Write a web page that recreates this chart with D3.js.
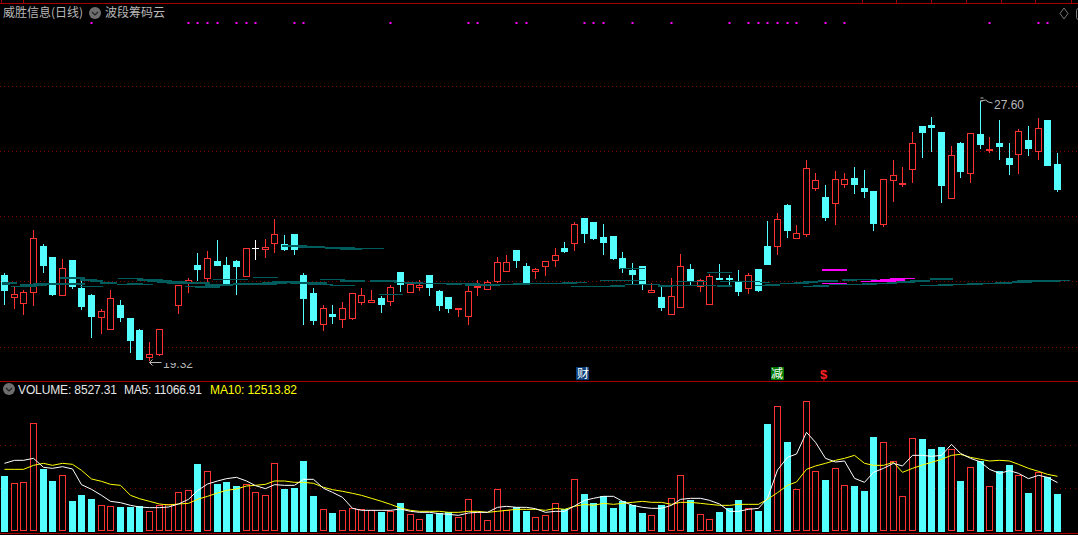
<!DOCTYPE html>
<html><head><meta charset="utf-8">
<script src="https://cdn.jsdelivr.net/npm/d3@7/dist/d3.min.js"></script>
<style>html,body{margin:0;padding:0;background:#000;overflow:hidden}svg{display:block}
text{font-family:"Liberation Sans",Arial,sans-serif;font-size:12px}
.cjk{font-family:"Noto Sans CJK SC",sans-serif}</style></head><body>
<svg id="c" width="1078" height="535"></svg>
<script>
const open=[22.03,21.34,21.15,21.47,22.95,22.60,21.40,22.51,21.62,21.39,
20.70,20.32,21.07,20.66,20.28,19.43,19.52,null,21.07,21.78,
22.35,21.93,22.48,22.35,22.48,22.00,22.88,22.86,23.06,23.02,
23.34,22.03,21.46,20.47,20.79,20.61,20.67,21.18,21.18,21.30,
21.21,22.13,21.47,21.65,22.03,21.52,21.33,20.96,20.73,21.65,
21.59,21.82,22.17,22.83,22.32,22.14,22.30,22.52,22.89,23.06,
23.85,23.72,23.24,23.27,22.57,22.19,22.32,21.50,21.33,20.80,
21.02,22.22,21.68,21.09,21.92,21.92,21.80,21.61,22.22,22.95,
22.96,24.26,23.22,23.34,24.81,24.51,24.33,24.91,25.12,24.80,
24.70,23.66,25.06,24.93,25.41,26.77,26.81,26.58,24.49,26.23,
25.27,26.52,26.01,26.23,25.75,25.89,26.33,25.96,26.96,25.56];
const high=[22.13,21.71,21.57,23.49,23.05,22.60,22.57,22.51,21.87,21.46,
20.98,21.58,21.27,20.66,20.34,19.93,20.34,null,21.71,21.97,
22.76,22.83,23.18,22.63,22.54,22.92,23.18,23.21,23.85,23.34,
23.34,22.13,21.65,21.11,21.11,21.20,21.46,21.65,21.58,21.39,
21.74,22.16,21.74,21.90,22.03,21.58,21.36,20.98,21.78,21.90,
21.90,22.63,22.70,22.83,22.44,22.28,22.48,22.92,23.11,23.75,
23.85,23.72,23.69,23.27,22.79,22.44,22.35,21.81,21.74,21.97,
22.73,22.41,21.93,22.09,22.41,22.06,22.22,22.12,22.22,23.78,
24.03,24.32,23.65,25.72,25.31,24.93,25.37,25.31,25.50,25.40,
24.70,25.12,25.72,25.50,26.61,26.77,27.09,26.61,26.17,26.30,
26.55,27.60,26.46,27.00,26.26,26.71,26.81,27.06,26.96,25.95];
const low=[21.11,20.98,20.79,21.07,22.13,21.39,21.40,21.62,20.95,20.06,
20.18,20.32,20.56,19.58,19.35,19.32,19.48,null,20.82,21.49,
21.87,21.84,22.35,21.71,21.42,22.00,22.54,22.60,22.76,22.83,
22.70,20.47,20.47,20.28,20.50,20.37,20.63,21.11,21.18,20.85,
21.07,21.52,21.47,21.55,21.39,20.92,20.85,20.72,20.47,21.39,
21.58,21.81,22.16,22.28,21.78,21.93,22.03,22.32,22.76,22.83,
23.08,23.18,22.70,22.54,22.13,21.78,21.58,21.49,20.92,20.80,
21.02,21.71,21.52,21.09,21.90,21.71,21.39,21.45,21.52,22.38,
22.70,23.24,23.22,23.27,24.73,23.78,23.65,24.83,24.64,24.51,
23.46,23.59,24.38,24.86,24.99,25.79,25.98,24.35,24.49,25.15,
24.99,26.07,25.95,25.72,25.25,25.28,25.85,25.72,25.53,24.70];
const close=[21.55,21.42,21.48,23.20,22.35,21.42,22.24,21.68,21.04,20.72,
20.87,21.29,20.69,19.96,19.35,19.50,20.30,null,21.71,21.86,
22.22,22.56,22.35,21.71,22.32,22.89,22.88,22.91,23.34,22.86,
22.86,21.30,20.60,20.97,20.72,20.97,21.45,21.39,21.22,21.11,
21.64,21.74,21.74,21.71,21.65,21.07,20.98,20.97,21.51,21.67,
21.81,22.43,22.43,22.51,21.78,22.21,22.46,22.66,22.79,23.64,
23.37,23.21,23.08,22.57,22.25,22.06,21.74,21.55,21.01,21.35,
22.31,21.84,21.86,21.99,21.90,21.90,21.52,22.02,21.55,22.38,
23.80,23.46,23.36,25.43,25.04,23.88,25.08,25.08,24.93,24.70,
23.68,25.08,25.20,24.95,26.22,26.58,26.74,24.89,25.84,25.34,
26.54,26.20,26.03,26.14,25.56,26.60,26.07,26.70,25.53,24.77];
const volume=[12586,10908,11137,24638,14188,11442,12739,6865,8238,7323,
5874,5645,5492,5492,5645,4501,5874,6102,8848,9306,
15332,13654,10755,11213,10298,10679,8848,8162,15485,9611,
9840,16019,8009,4958,4119,4729,5187,4958,4729,4348,
4501,6408,3814,2670,3890,4043,4272,3127,7247,4272,
2441,9535,4729,5416,4577,3127,3585,6331,5034,11823,
8467,6408,7933,5263,6865,5950,4119,3585,5950,7475,
12739,7094,3814,2670,4348,5263,7094,5187,4577,24486,
28529,20367,9535,29673,13654,11671,14341,10450,10298,9154,
21511,20290,15943,7933,21206,21053,18765,19223,18689,11442,
14569,16019,10222,13654,15103,12739,8696,13425,12281,8527.31];
const ma5=[15485,16171,16171,16629,14569,14341,14722,14188,10603,9535,
8162,6789,6484,5874,5492,5340,5340,5492,6179,7247,
9230,10755,11442,11976,12281,11442,10374,9688,10603,10450,
10450,11823,11823,9764,8848,7704,5187,4729,4729,4729,
4729,5034,4501,4272,4272,3967,3814,3585,4119,4272,
4272,5416,5645,5416,5416,5111,4272,4501,4501,5721,
7018,7475,7933,7933,6789,5874,5416,5187,5187,5874,
7247,7475,7475,7018,6179,4501,4501,4958,5187,7475,
13959,16858,17621,22579,20290,16629,15790,16019,12052,11137,
13425,14341,15485,14875,17316,17316,17087,17316,19833,17773,
16629,15790,14112,13196,13807,13196,11976,12739,12281,11066.91];
const ma10=[14112,14112,14112,15027,15485,15027,15485,15256,13883,11900,
11366,10679,10450,8162,7399,6789,6179,5950,6179,6331,
7247,7933,8696,9306,9611,10298,10450,10679,11442,11442,
11137,11137,10908,9993,9459,9077,8620,8162,7475,6789,
6102,5263,4729,4501,4501,4501,4272,4272,4501,4501,
4272,4501,4729,4958,4958,4958,4729,5187,4958,5645,
6102,5874,6331,6102,6331,6560,6789,6560,6560,6102,
6560,6560,6331,6102,5874,5874,6102,6102,6102,7247,
8772,10450,11213,14112,14875,15485,16171,16629,17316,15485,
15027,15027,15714,13425,14341,15103,15714,16400,17316,17544,
16858,16400,16019,16171,16019,15256,14341,13654,12968,12513.82];
const priceGrid=[28.03,25.96,23.89,21.82,19.72];
const volumeGrid=[9950,19790];
const chipFrom=[-0.28,-0.28,0.69,1.62,3.0,4.03,5.76,7.83,8.86,9.9,7.83,11.62,12.66,11.79,13.69,14.72,15.76,16.79,18.69,19.72,20.76,21.62,22.31,23.69,24.72,25.76,26.62,27.66,29.55,31.45,32.65,33.69,34.72,
28.69,30.41,31.62,33.17,34.72,36.82,
36.82,37.79,38.72,40.27,41.47,43.37,45.72,47.16,47.68,51.3,52.68,54.4,57.68,59.23,58.65,61.65,62.68,63.72,64.23,67.68,69.23,69.75,72.68,73.72,
74.09,74.09,74.09,77.71,78.75,78.23,80.3,81.68,82.7,84.26,82.7,83.74,85.3,86.68,88.23,88.74,90.3,91.33,92.37,93.68,95.81,94.78,96.68,98.23,99.6,101.33,102.54,104.26,104.78,107.71,109.26];
const chipTo=[1.27,0.58,3.34,4.38,5.76,8.34,8.34,9.55,10.24,11.62,10.24,15.41,14.38,14.38,16.45,17.31,18.86,21.28,22.31,22.31,23.69,25.24,25.76,27.14,28.17,28.34,29.21,30.59,33.34,34.03,35.24,36.27,36.79,
31.27,33.17,34.72,36.27,36.97,39.30,
37.34,40.61,41.3,43.37,43.37,45.79,47.34,49.23,51.3,54.4,54.4,57.68,59.23,60.27,64.23,66.3,64.23,66.3,67.86,69.23,73.7,72.68,74.06,74.06,
75.3,75.3,78.2,80.3,80.3,79.26,82.7,83.23,84.26,86.33,85.3,85.3,88.74,88.23,90.3,90.3,91.33,92.37,94.26,95.81,98.23,96.68,98.23,99.6,101.33,102.54,104.26,106.33,107.71,109.26,110.3];
const chipPrice=[21.78,21.71,21.66,21.71,21.74,21.75,21.92,21.87,21.82,21.76,21.67,21.73,21.74,21.92,21.87,21.82,21.79,21.77,21.65,21.66,21.70,21.89,21.71,21.73,21.75,21.95,21.78,21.80,21.77,21.72,21.89,21.69,21.85,
22.96,22.92,22.90,22.90,22.87,22.88,
21.85,21.82,21.41,21.79,21.78,21.76,21.74,21.75,21.72,21.74,21.75,21.76,21.77,21.79,21.67,21.86,21.69,22.22,21.71,21.69,21.68,21.83,22.11,21.69,
22.11,21.69,21.81,21.69,21.71,21.79,21.75,21.77,21.80,21.84,21.67,21.69,21.73,21.88,21.89,21.75,21.76,21.77,21.80,21.85,21.89,21.70,21.72,21.73,21.75,21.76,21.77,21.79,21.83,21.85,21.86];
const chipLots=[2,1,1,2,2,2,2,2,2,2,1,1,2,1,2,2,2,2,1,2,2,1,1,2,2,1,2,2,2,1,1,1,2,
2,2,1,2,2,1,
2,2,1,1,2,1,2,1,2,1,2,1,2,1,1,1,2,1,1,2,1,1,1,2,
1,2,1,1,2,1,1,2,2,2,1,2,1,2,1,2,1,2,2,2,2,1,2,1,2,1,2,2,2,2,1];
const peakFrom=[84.6,84.6,88.68,89.7,90.65,91.68];
const peakTo=[87.2,87.2,91.33,92.3,93.23,94.26];
const peakPrice=[22.18,21.76,21.83,21.85,21.87,21.91];
const peakLots=[2,1,1,2,2,1];
const signalDays=[9,19,20,21,22,24,25,26,30,31,40,48,49,53,54,60,61,62,65,69,75,77,78,79,80,81,82,85,87,102,107,108];
const timeTicks=[-0.34,1.94,88.73,92.28,95.88,99.48,103.14,106.7,110.39];
const eventDays=[59.84,80,84.8];
const headerTitle="威胜信息(日线)", indicatorName="波段筹码云";
const volLabels=["VOLUME: 8527.31","MA5: 11066.91","MA10: 12513.82"];

const CY="#54ffff",RD="#ff3232",TEAL="#005c5c",GRID="#800000",FRAME="#a40000",MG="#ff00ff",TXT="#b8b8b8";
const svg=d3.select("#c");
const idx=d3.range(volume.length);
const x=d3.scaleLinear().domain([0,109]).range([4.5,1057.5]);
const cx=i=>Math.floor(x(i))+0.5;
const y=d3.scaleLinear().domain([19.32,27.60]).range([360,100]);
const vy=d3.scaleLinear().domain([0,30000]).range([531,399.9]);
const sy=v=>Math.round(y(v))+0.5;
const lotW=d3.scaleOrdinal().domain([1,2]).range([1,2]);

svg.append("rect").attr("width",1078).attr("height",535).attr("fill","#000");
[3.5,381.5,533.5].forEach(v=>svg.append("line").attr("x1",0).attr("x2",1078).attr("y1",v).attr("y2",v).attr("stroke",FRAME));
svg.selectAll(".tt").data(timeTicks).join("line").attr("x1",d=>Math.round(x(d))+.5).attr("x2",d=>Math.round(x(d))+.5).attr("y1",0).attr("y2",3).attr("stroke",FRAME);
svg.selectAll(".pg").data(priceGrid).join("line").attr("x1",0).attr("x2",1078).attr("y1",d=>sy(d)).attr("y2",d=>sy(d))
 .attr("stroke",GRID).attr("stroke-dasharray","1 3").attr("shape-rendering","crispEdges");
svg.selectAll(".vg").data(volumeGrid).join("line").attr("x1",0).attr("x2",1078).attr("y1",d=>Math.round(vy(d))+.5).attr("y2",d=>Math.round(vy(d))+.5)
 .attr("stroke",GRID).attr("stroke-dasharray","1 4").attr("shape-rendering","crispEdges");
const g=svg.append("g").attr("shape-rendering","crispEdges");
idx.filter(i=>open[i]!=null).forEach(i=>{
  const up=close[i]>open[i],flat=close[i]===open[i];
  const col=flat?"#fff":(up?RD:CY);
  const c=cx(i);
  const t=sy(Math.max(open[i],close[i])),b=sy(Math.min(open[i],close[i]));
  g.append("line").attr("x1",c).attr("x2",c).attr("y1",sy(high[i])).attr("y2",sy(low[i])).attr("stroke",col);
  if(flat||up){
    if(flat) g.append("line").attr("x1",c-3.5).attr("x2",c+3.5).attr("y1",t).attr("y2",t).attr("stroke",col);
    else g.append("rect").attr("x",c-3).attr("y",t).attr("width",6).attr("height",Math.max(b-t,1)).attr("fill","#000").attr("stroke",col);
  } else {
    g.append("rect").attr("x",c-3.5).attr("y",t-.5).attr("width",7).attr("height",Math.max(b-t,1)+1).attr("fill",col);
  }
});
svg.append("g").attr("shape-rendering","crispEdges").selectAll("line").data(peakFrom).join("line")
 .attr("x1",(d,i)=>x(peakFrom[i])).attr("x2",(d,i)=>x(peakTo[i]))
 .attr("y1",(d,i)=>y(peakPrice[i])).attr("y2",(d,i)=>y(peakPrice[i]))
 .attr("stroke",MG).attr("stroke-width",(d,i)=>lotW(peakLots[i]));
svg.append("g").attr("shape-rendering","crispEdges").selectAll("line").data(chipFrom).join("line")
 .attr("x1",(d,i)=>x(chipFrom[i])).attr("x2",(d,i)=>x(chipTo[i]))
 .attr("y1",(d,i)=>y(chipPrice[i])).attr("y2",(d,i)=>y(chipPrice[i]))
 .attr("stroke",TEAL).attr("stroke-width",(d,i)=>lotW(chipLots[i]));
svg.selectAll(".sd").data(signalDays).join("rect").attr("x",d=>cx(d)-1).attr("y",22).attr("width",2).attr("height",2).attr("fill",MG);
svg.append("text").attr("class","cjk").attr("x",3).attr("y",17).attr("fill",TXT).text(headerTitle);
function chev(px,py){
  svg.append("circle").attr("cx",px).attr("cy",py).attr("r",6).attr("fill","#6e6e6e");
  svg.append("path").attr("d",`M${px-3},${py-1}L${px},${py+2}L${px+3},${py-1}`).attr("fill","none").attr("stroke","#222").attr("stroke-width",1.2);
}
chev(95,13);
svg.append("text").attr("class","cjk").attr("x",105).attr("y",17).attr("fill",TXT).text(indicatorName);
svg.append("path").attr("d","M1064,8L1068,13.5L1064,19L1060,13.5Z").attr("fill","none").attr("stroke","#777");
svg.append("rect").attr("x",1076.5).attr("y",8.5).attr("width",6).attr("height",11).attr("rx",2).attr("fill","none").attr("stroke","#777");
const hx=cx(101),hy=y(27.60);
svg.append("path").attr("d",`M${hx},${hy-2}h3M${hx},${hy+1}h2M${hx},${hy+1}L${hx+5},${hy}L${hx+8},${hy+2}L${hx+12},${hy+3}`).attr("fill","none").attr("stroke",TXT);
svg.append("text").attr("x",994).attr("y",y(27.60)+8.5).attr("fill",TXT).text("27.60");
const lx=cx(15),ly=y(19.32)+2.5;
svg.append("path").attr("d",`M${lx},${ly}h12M${lx},${ly}l3,-3M${lx},${ly}l3,3`).attr("fill","none").attr("stroke",TXT);
const defs=svg.append("defs");
defs.append("clipPath").attr("id","lowclip").append("rect").attr("x",150).attr("y",363).attr("width",60).attr("height",10);
svg.append("text").attr("x",163).attr("y",368).attr("fill",TXT).attr("clip-path","url(#lowclip)").text("19.32");
function badge(i,bg,t){
  const c=x(i);
  svg.append("rect").attr("x",Math.round(c-6.5)).attr("y",367).attr("width",13).attr("height",13).attr("fill",bg);
  svg.append("text").attr("class","cjk").attr("x",Math.round(c)).attr("y",378).attr("text-anchor","middle").attr("fill","#fff").text(t);
}
badge(eventDays[0],"#0a3c78","财"); badge(eventDays[1],"#007800","减");
svg.append("text").attr("x",x(eventDays[2])).attr("y",379).attr("text-anchor","middle").attr("fill","#ff2020").style("font-weight","bold").style("font-size","13px").text("$");
const vg=svg.append("g").attr("shape-rendering","crispEdges");
idx.forEach(i=>{
  const c=cx(i),t=Math.round(vy(volume[i]))+.5;
  if(close[i]<open[i]) vg.append("rect").attr("x",c-3.5).attr("y",t-.5).attr("width",7).attr("height",531-t+1).attr("fill",CY);
  else vg.append("rect").attr("x",c-3).attr("y",t).attr("width",6).attr("height",530.5-t).attr("fill","#000").attr("stroke",RD);
});
const line=d3.line().x((d,i)=>cx(i)).y(d=>vy(d));
svg.append("path").attr("d",line(ma10)).attr("fill","none").attr("stroke","#ffff00");
svg.append("path").attr("d",line(ma5)).attr("fill","none").attr("stroke","#fff");
chev(9,389);
svg.append("text").attr("x",18).attr("y",394).attr("fill","#e6e6e6").attr("textLength",99).text(volLabels[0]);
svg.append("text").attr("x",124).attr("y",394).attr("fill","#e6e6e6").attr("textLength",78).text(volLabels[1]);
svg.append("text").attr("x",210).attr("y",394).attr("fill","#ffff00").attr("textLength",87).text(volLabels[2]);
</script></body></html>
